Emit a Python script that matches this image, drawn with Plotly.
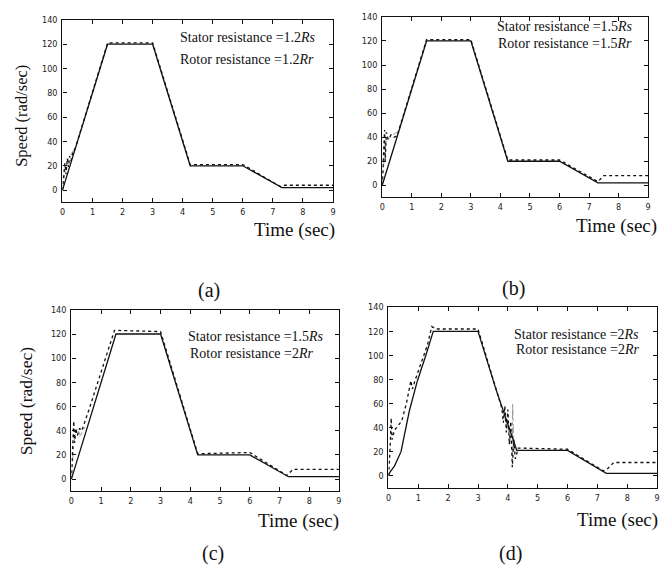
import plotly.graph_objects as go

# ---- data -------------------------------------------------------------
# reference speed profile (solid), panels a-c
t_ref = [0, 1.5, 3.0, 4.25, 6.0, 7.3, 9.0]
w_ref = [0, 120, 120, 20, 20, 2, 2]

# motor speed (solid) for panel d
t_d_solid = [0, 0.05, 0.2, 0.42, 0.7, 0.97, 1.25, 1.5, 3.0, 3.6, 4.3, 6.0, 7.3, 9.0]
w_d_solid = [0, 3, 8, 20, 54, 79, 100, 120, 120, 72, 21, 21, 2, 2]

# estimated speed (dotted) per panel
t_a_dot = [0, 0.04, 0.08, 0.12, 0.16, 0.2, 0.24, 0.28, 0.34, 0.42, 1.5, 3.0, 4.25, 6.0, 7.25, 7.4, 9.0]
w_a_dot = [0, 12, 22, 13, 26, 19, 28, 24, 30, 34, 121, 121, 21, 21, 3, 4, 4]

t_b_dot = [0, 0.05, 0.08, 0.1, 0.14, 0.2, 0.3, 0.4, 0.5, 1.5, 3.0, 4.25, 6.0, 7.3, 7.5, 9.0]
w_b_dot = [0, 30, 46, 20, 44, 38, 42, 40, 41, 121, 121, 21, 21, 3, 8, 8]

t_c_dot = [0, 0.04, 0.08, 0.11, 0.15, 0.2, 0.28, 0.35, 0.6, 1.2, 1.45, 3.0, 4.25, 6.0, 7.25, 7.45, 9.0]
w_c_dot = [0, 30, 48, 30, 42, 36, 42, 40, 58, 104, 123, 122, 21, 22, 3, 8, 8]

t_d_dot = [0, 0.05, 0.09, 0.12, 0.2, 0.31, 0.45, 0.6, 0.75, 0.8, 0.9, 1.1, 1.31, 1.45, 1.6, 3.0,
           3.6, 3.8, 3.85, 3.9, 3.95, 4.0, 4.05, 4.1, 4.15, 4.2, 4.25, 4.35, 6.0, 7.2, 7.35, 7.55, 9.0]
w_d_dot = [0, 20, 48, 30, 38, 41, 46, 60, 79, 72, 80, 95, 109, 124, 122, 122,
           74, 56, 44, 58, 36, 55, 26, 45, 7, 30, 14, 23, 22, 4, 6, 11, 11]

# second estimate (grey dash-dot) near the transients
t_a_grey = [0, 0.1, 0.2, 0.3, 0.45]
w_a_grey = [0, 18, 26, 30, 36]
t_b_grey = [0, 0.1, 0.2, 0.35, 0.5]
w_b_grey = [0, 35, 38, 42, 44]
t_c_grey = [0, 0.1, 0.2, 0.3, 0.5]
w_c_grey = [0, 35, 42, 36, 45]
t_d_grey = [3.9, 4.0, 4.1, 4.15, 4.16, 4.2, 4.3]
w_d_grey = [48, 40, 30, 18, 60, 22, 22]

x_ticks = list(range(0, 10))
y_ticks = list(range(0, 141, 20))

W, H = 665, 572

def px_x(v):
    return v / W

def px_y(v):
    return 1 - v / H

# plot-area rectangles in pixels: (left, right, top, bottom)
boxes = {
    "a": (60, 333, 15, 199),
    "b": (382.7, 651, 12, 194),
    "c": (69, 339, 307.5, 490.5),
    "d": (389, 660, 305, 487),
}

series = {
    "a": (t_ref, w_ref, t_a_dot, w_a_dot, t_a_grey, w_a_grey),
    "b": (t_ref, w_ref, t_b_dot, w_b_dot, t_b_grey, w_b_grey),
    "c": (t_ref, w_ref, t_c_dot, w_c_dot, t_c_grey, w_c_grey),
    "d": (t_d_solid, w_d_solid, t_d_dot, w_d_dot, t_d_grey, w_d_grey),
}

fig = go.Figure()
tick_font = dict(family="Liberation Sans Narrow, DejaVu Sans Condensed, Arial Narrow, sans-serif",
                 size=9, color="#222")

layout_axes = {}
for i, key in enumerate(["a", "b", "c", "d"]):
    n = "" if i == 0 else str(i + 1)
    l, r, t, b = boxes[key]
    ts, ws, td, wd, tg, wg = series[key]
    fig.add_trace(go.Scatter(x=tg, y=wg, mode="lines", xaxis="x" + n, yaxis="y" + n,
                             line=dict(color="#9a9a9a", width=1, dash="dashdot"),
                             showlegend=False, hoverinfo="skip"))
    fig.add_trace(go.Scatter(x=ts, y=ws, mode="lines", xaxis="x" + n, yaxis="y" + n,
                             line=dict(color="#111", width=1.3),
                             showlegend=False))
    fig.add_trace(go.Scatter(x=td, y=wd, mode="lines", xaxis="x" + n, yaxis="y" + n,
                             line=dict(color="#111", width=1.3, dash="dot"),
                             showlegend=False))
    common = dict(showline=True, linecolor="#111", linewidth=1.3, mirror="ticks",
                  ticks="inside", ticklen=4, tickcolor="#111", tickwidth=1,
                  showgrid=False, zeroline=False, tickfont=tick_font)
    layout_axes["xaxis" + n] = dict(common, domain=[px_x(l), px_x(r)], range=[0, 9],
                                    tickvals=x_ticks, anchor="y" + n, ticklabelstandoff=1)
    layout_axes["yaxis" + n] = dict(common, domain=[px_y(b), px_y(t)], range=[-10, 140],
                                    tickvals=y_ticks, anchor="x" + n, ticklabelstandoff=2)

fig.update_layout(**layout_axes)

serif = "Liberation Serif, Times New Roman, serif"
ann = []

def text(x, y, s, size, xanchor="left", angle=0):
    ann.append(dict(x=px_x(x), y=px_y(y), xref="paper", yref="paper", text=s,
                    showarrow=False, xanchor=xanchor, yanchor="middle", textangle=angle,
                    font=dict(family=serif, size=size, color="#111")))

# parameter captions inside each panel
text(177, 33, "Stator resistance =1.2<i>Rs</i>", 14)
text(177, 55, "Rotor resistance =1.2<i>Rr</i>", 14)
text(496, 22, "Stator resistance =1.5<i>Rs</i>", 14)
text(497, 39, "Rotor resistance =1.5<i>Rr</i>", 14)
text(185, 334, "Stator resistance =1.5<i>Rs</i>", 14)
text(187, 352, "Rotor resistance =2<i>Rr</i>", 14)
text(514, 332, "Stator resistance =2<i>Rs</i>", 14)
text(516, 348, "Rotor resistance =2<i>Rr</i>", 14)

# axis titles
text(337, 227, "Time (sec)", 19, xanchor="right")
text(662, 223, "Time (sec)", 19, xanchor="right")
text(341, 521, "Time (sec)", 19, xanchor="right")
text(663, 520, "Time (sec)", 19, xanchor="right")
text(18, 112, "Speed (rad/sec)", 16.5, xanchor="center", angle=-90)
text(23, 399, "Speed (rad/sec)", 17.5, xanchor="center", angle=-90)

# panel labels
text(208, 288, "(a)", 20, xanchor="center")
text(515, 286, "(b)", 20, xanchor="center")
text(212, 553, "(c)", 20, xanchor="center")
text(512, 553, "(d)", 20, xanchor="center")

fig.update_layout(annotations=ann, width=W, height=H,
                  margin=dict(l=0, r=0, t=0, b=0),
                  paper_bgcolor="white", plot_bgcolor="white")

fig.write_html("out.html")
